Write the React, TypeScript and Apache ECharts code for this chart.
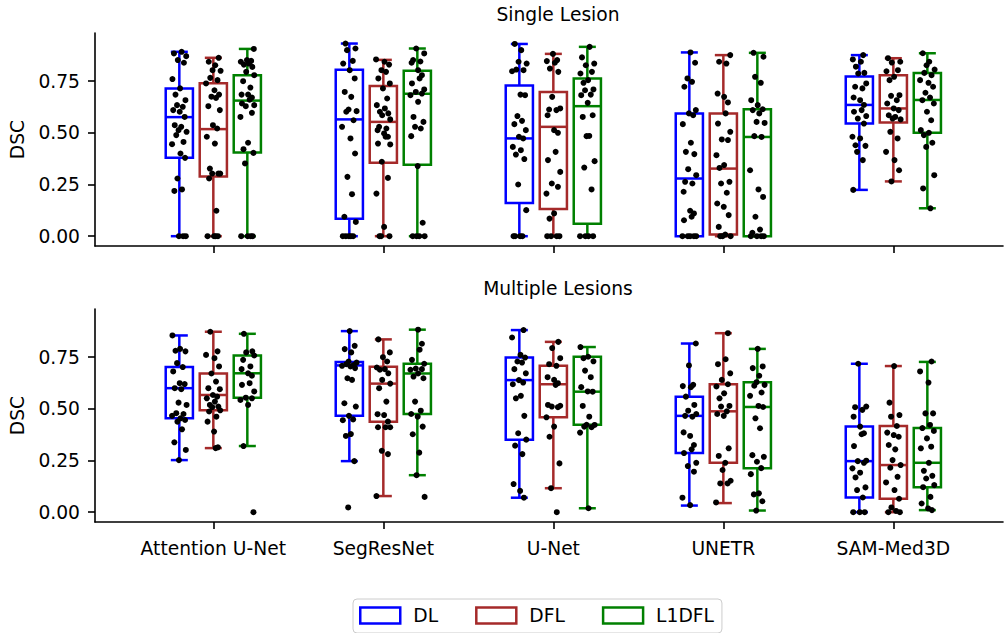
import React, { useEffect, useRef } from "react";
import * as echarts from "echarts";

const models = ["Attention U-Net", "SegResNet", "U-Net", "UNETR", "SAM-Med3D"];
const losses = ["DL", "DFL", "L1DFL"];
const lossColors = ["#0000ff", "#a52a2a", "#008000"];
const yTicks = [0, 0.25, 0.5, 0.75];
const panelTitles = ["Single Lesion", "Multiple Lesions"];

// box statistics per model: [lower whisker, q1, median, q3, upper whisker]
const singleDLBox = [
  [0, 0.379, 0.576, 0.715, 0.892],
  [0, 0.084, 0.565, 0.805, 0.932],
  [0, 0.16, 0.473, 0.729, 0.93],
  [0, 0, 0.279, 0.594, 0.889],
  [0.224, 0.545, 0.635, 0.773, 0.876],
];
const singleDFLBox = [
  [0, 0.289, 0.518, 0.74, 0.863],
  [0, 0.355, 0.553, 0.726, 0.853],
  [0, 0.132, 0.529, 0.697, 0.882],
  [0, 0.008, 0.327, 0.594, 0.876],
  [0.265, 0.55, 0.618, 0.779, 0.861],
];
const singleL1DFLBox = [
  [0, 0.405, 0.656, 0.779, 0.906],
  [0, 0.345, 0.689, 0.8, 0.908],
  [0, 0.06, 0.629, 0.763, 0.916],
  [0, 0, 0.48, 0.614, 0.887],
  [0.135, 0.5, 0.659, 0.789, 0.885],
];
const multiDLBox = [
  [0.252, 0.454, 0.6, 0.702, 0.855],
  [0.247, 0.466, 0.71, 0.726, 0.876],
  [0.07, 0.351, 0.639, 0.748, 0.881],
  [0.032, 0.286, 0.466, 0.559, 0.816],
  [0, 0.071, 0.247, 0.414, 0.718],
];
const multiDFLBox = [
  [0.31, 0.493, 0.567, 0.671, 0.873],
  [0.078, 0.438, 0.622, 0.703, 0.836],
  [0.116, 0.459, 0.619, 0.708, 0.824],
  [0.044, 0.239, 0.488, 0.619, 0.866],
  [0, 0.065, 0.228, 0.417, 0.707],
];
const multiL1DFLBox = [
  [0.32, 0.554, 0.672, 0.758, 0.863],
  [0.179, 0.475, 0.671, 0.718, 0.883],
  [0.019, 0.423, 0.583, 0.752, 0.799],
  [0.008, 0.213, 0.509, 0.629, 0.79],
  [0.01, 0.121, 0.239, 0.407, 0.727],
];

// individual DSC values per model (strip points)
const singleDLPoints = [
  [0.892, 0.884, 0.871, 0.852, 0.839, 0.76, 0.715, 0.685, 0.658, 0.634, 0.626, 0.61, 0.602, 0.577, 0.537, 0.529, 0.513, 0.505, 0.489, 0.456, 0.445, 0.4, 0.379, 0.279, 0.226, 0.219, 0, 0, 0],
  [0.932, 0.908, 0.9, 0.848, 0.835, 0.803, 0.763, 0.698, 0.674, 0.613, 0.605, 0.602, 0.561, 0.529, 0.473, 0.4, 0.287, 0.203, 0.094, 0.069, 0, 0, 0, 0, 0],
  [0.93, 0.9, 0.844, 0.835, 0.806, 0.803, 0.798, 0.685, 0.682, 0.581, 0.558, 0.542, 0.513, 0.481, 0.473, 0.432, 0.416, 0.395, 0.373, 0.25, 0.126, 0, 0, 0, 0],
  [0.889, 0.839, 0.763, 0.747, 0.723, 0.61, 0.594, 0.585, 0.542, 0.452, 0.408, 0.397, 0.324, 0.295, 0.263, 0.255, 0.215, 0.123, 0.11, 0.094, 0.077, 0, 0, 0, 0, 0],
  [0.876, 0.855, 0.844, 0.82, 0.79, 0.787, 0.739, 0.723, 0.715, 0.671, 0.658, 0.635, 0.61, 0.602, 0.581, 0.569, 0.545, 0.481, 0.473, 0.44, 0.437, 0.408, 0.368, 0.224],
];
const singleDFLPoints = [
  [0.863, 0.844, 0.827, 0.803, 0.8, 0.766, 0.755, 0.739, 0.706, 0.685, 0.675, 0.669, 0.629, 0.61, 0.537, 0.521, 0.481, 0.448, 0.327, 0.303, 0.303, 0.303, 0.279, 0.123, 0, 0, 0, 0],
  [0.855, 0.844, 0.83, 0.803, 0.795, 0.763, 0.739, 0.715, 0.666, 0.634, 0.618, 0.602, 0.594, 0.585, 0.565, 0.529, 0.521, 0.513, 0.497, 0.481, 0.481, 0.448, 0.444, 0.36, 0.282, 0.206, 0.045, 0, 0, 0],
  [0.882, 0.852, 0.847, 0.839, 0.811, 0.795, 0.674, 0.618, 0.613, 0.61, 0.585, 0.513, 0.5, 0.408, 0.368, 0.311, 0.255, 0.239, 0.206, 0.11, 0.085, 0, 0, 0, 0],
  [0.876, 0.844, 0.835, 0.69, 0.674, 0.647, 0.594, 0.545, 0.505, 0.468, 0.465, 0.392, 0.344, 0.33, 0.263, 0.255, 0.21, 0.158, 0.142, 0.102, 0.045, 0.008, 0, 0, 0],
  [0.861, 0.844, 0.84, 0.803, 0.798, 0.771, 0.755, 0.682, 0.679, 0.658, 0.642, 0.618, 0.61, 0.585, 0.577, 0.569, 0.565, 0.505, 0.473, 0.408, 0.368, 0.319, 0.265],
];
const singleL1DFLPoints = [
  [0.906, 0.852, 0.848, 0.844, 0.835, 0.83, 0.819, 0.795, 0.779, 0.75, 0.719, 0.685, 0.685, 0.671, 0.66, 0.642, 0.634, 0.629, 0.597, 0.577, 0.452, 0.421, 0.403, 0.352, 0, 0, 0, 0],
  [0.908, 0.884, 0.852, 0.845, 0.839, 0.803, 0.779, 0.763, 0.739, 0.71, 0.698, 0.69, 0.682, 0.65, 0.577, 0.553, 0.529, 0.521, 0.484, 0.339, 0.065, 0, 0, 0, 0],
  [0.916, 0.865, 0.835, 0.827, 0.795, 0.787, 0.755, 0.742, 0.71, 0.706, 0.685, 0.682, 0.645, 0.585, 0.577, 0.485, 0.484, 0.363, 0.332, 0.226, 0, 0, 0, 0],
  [0.887, 0.868, 0.771, 0.742, 0.658, 0.634, 0.614, 0.61, 0.594, 0.553, 0.548, 0.484, 0.48, 0.319, 0.226, 0.19, 0.094, 0.032, 0.016, 0, 0, 0, 0],
  [0.885, 0.844, 0.827, 0.806, 0.79, 0.779, 0.755, 0.742, 0.723, 0.694, 0.671, 0.658, 0.642, 0.602, 0.561, 0.513, 0.5, 0.489, 0.452, 0.432, 0.295, 0.231, 0.135],
];
const multiDLPoints = [
  [0.855, 0.79, 0.781, 0.778, 0.721, 0.702, 0.681, 0.624, 0.62, 0.6, 0.595, 0.53, 0.519, 0.479, 0.475, 0.466, 0.454, 0.446, 0.438, 0.401, 0.338, 0.301, 0.252],
  [0.876, 0.805, 0.789, 0.773, 0.729, 0.724, 0.716, 0.712, 0.708, 0.705, 0.697, 0.648, 0.64, 0.527, 0.511, 0.466, 0.449, 0.445, 0.378, 0.369, 0.247, 0.023],
  [0.881, 0.845, 0.761, 0.748, 0.729, 0.724, 0.692, 0.672, 0.639, 0.627, 0.619, 0.563, 0.551, 0.466, 0.382, 0.351, 0.322, 0.281, 0.136, 0.103, 0.07],
  [0.816, 0.71, 0.616, 0.61, 0.605, 0.559, 0.519, 0.491, 0.475, 0.466, 0.462, 0.386, 0.369, 0.325, 0.304, 0.286, 0.239, 0.223, 0.196, 0.07, 0.034],
  [0.718, 0.511, 0.508, 0.495, 0.462, 0.414, 0.382, 0.377, 0.32, 0.249, 0.247, 0.239, 0.212, 0.191, 0.168, 0.12, 0.107, 0.071, 0, 0, 0],
];
const multiDFLPoints = [
  [0.873, 0.778, 0.761, 0.745, 0.705, 0.671, 0.632, 0.6, 0.595, 0.567, 0.559, 0.551, 0.535, 0.519, 0.511, 0.508, 0.493, 0.487, 0.462, 0.438, 0.39, 0.314, 0.31],
  [0.836, 0.773, 0.75, 0.729, 0.7, 0.692, 0.689, 0.672, 0.64, 0.622, 0.6, 0.535, 0.474, 0.47, 0.438, 0.411, 0.411, 0.411, 0.297, 0.281, 0.078],
  [0.824, 0.794, 0.745, 0.716, 0.708, 0.653, 0.64, 0.624, 0.616, 0.519, 0.515, 0.511, 0.508, 0.459, 0.414, 0.365, 0.236, 0.116, 0],
  [0.866, 0.74, 0.716, 0.672, 0.64, 0.619, 0.608, 0.575, 0.551, 0.514, 0.511, 0.488, 0.475, 0.466, 0.309, 0.272, 0.239, 0.204, 0.152, 0.139, 0.139, 0.047],
  [0.707, 0.53, 0.47, 0.462, 0.417, 0.385, 0.373, 0.365, 0.325, 0.304, 0.252, 0.228, 0.215, 0.171, 0.144, 0.107, 0.065, 0.023, 0.006, 0, 0],
];
const multiL1DFLPoints = [
  [0.863, 0.778, 0.773, 0.758, 0.737, 0.705, 0.692, 0.672, 0.66, 0.624, 0.616, 0.584, 0.554, 0.551, 0.543, 0.519, 0.32, 0],
  [0.883, 0.815, 0.786, 0.737, 0.718, 0.695, 0.692, 0.689, 0.671, 0.656, 0.648, 0.535, 0.491, 0.475, 0.462, 0.414, 0.377, 0.288, 0.179, 0.074],
  [0.799, 0.752, 0.745, 0.73, 0.685, 0.653, 0.605, 0.584, 0.583, 0.514, 0.462, 0.423, 0.422, 0.414, 0.411, 0.385, 0.019],
  [0.79, 0.705, 0.697, 0.66, 0.629, 0.616, 0.612, 0.579, 0.563, 0.514, 0.509, 0.454, 0.406, 0.276, 0.268, 0.244, 0.213, 0.184, 0.091, 0.086, 0.053, 0.008],
  [0.729, 0.681, 0.627, 0.478, 0.478, 0.422, 0.407, 0.393, 0.357, 0.317, 0.309, 0.239, 0.2, 0.176, 0.163, 0.131, 0.121, 0.074, 0.042, 0.018, 0.01],
];

// fixed strip jitter pattern (fraction of jitter half-width)
const jitterPattern = [0.3, -0.7, 0.9, -0.2, 0.6, -0.9, 0.1, -0.5, 0.8, -0.3, 0.45, -0.8, 0.05, 0.7, -0.6, 0.25, -0.1, 0.95, -0.4, 0.55, -0.95, 0.15, 0.75, -0.25, 0.35, -0.65, 0.85, -0.05, 0.5, -0.85, 0.2, -0.45, 0.65, -0.15, 0.9, -0.55, 0.4, -0.75, 0.1, 0.6];

const FONT = "DejaVu Sans";
const FS = 18.7;
const HUE_OFFSET = [-0.2, 0, 0.2];
const BOX_W = 0.16;
const CAP_W = 0.1;
const JITTER = 0.045;
const LW = 2.5;

const boxesByPanel = [
  [singleDLBox, singleDFLBox, singleL1DFLBox],
  [multiDLBox, multiDFLBox, multiL1DFLBox],
];
const pointsByPanel = [
  [singleDLPoints, singleDFLPoints, singleL1DFLPoints],
  [multiDLPoints, multiDFLPoints, multiL1DFLPoints],
];

function buildOption() {
  const grids = [
    { left: 95, width: 908, top: 33, height: 213 },
    { left: 95, width: 908, top: 309, height: 213 },
  ];
  const xAxes = grids.map((_, p) => ({
    type: "value",
    gridIndex: p,
    min: -0.696,
    max: 4.645,
    splitLine: { show: false },
    axisLine: { show: true, onZero: false, lineStyle: { color: "#000", width: 1.6 } },
    axisTick: {
      show: true,
      customValues: [0, 1, 2, 3, 4],
      length: 7,
      lineStyle: { color: "#000", width: 1.6 },
    },
    axisLabel: {
      show: p === 1,
      customValues: [0, 1, 2, 3, 4],
      formatter: (v: number) => models[Math.round(v)] ?? "",
      fontFamily: FONT,
      fontSize: FS,
      color: "#000",
      margin: 17,
    },
  }));
  const yAxes = grids.map((_, p) => ({
    type: "value",
    gridIndex: p,
    min: -0.0475,
    max: 0.983,
    name: "DSC",
    nameLocation: "middle",
    nameGap: 66,
    nameRotate: 90,
    nameTextStyle: { fontFamily: FONT, fontSize: FS, color: "#000" },
    splitLine: { show: false },
    axisLine: { show: true, onZero: false, lineStyle: { color: "#000", width: 1.6 } },
    axisTick: { show: true, customValues: yTicks, length: 7, lineStyle: { color: "#000", width: 1.6 } },
    axisLabel: {
      customValues: yTicks,
      formatter: (v: number) => v.toFixed(2),
      fontFamily: FONT,
      fontSize: FS,
      color: "#000",
      margin: 15,
    },
  }));

  const series: any[] = [];
  for (let p = 0; p < 2; p++) {
    for (let h = 0; h < 3; h++) {
      const color = lossColors[h];
      series.push({
        type: "custom",
        name: losses[h],
        xAxisIndex: p,
        yAxisIndex: p,
        silent: true,
        z: 2,
        encode: { x: 0, y: [1, 2, 3, 4, 5] },
        data: boxesByPanel[p][h].map((b, i) => [i + HUE_OFFSET[h], ...b]),
        renderItem: (params: any, api: any) => {
          const x = api.value(0);
          const lo = api.coord([x, api.value(1)]);
          const q1 = api.coord([x, api.value(2)]);
          const md = api.coord([x, api.value(3)]);
          const q3 = api.coord([x, api.value(4)]);
          const hi = api.coord([x, api.value(5)]);
          const bw = api.size([BOX_W, 0])[0];
          const cw = api.size([CAP_W, 0])[0];
          const cx = lo[0];
          const st = { stroke: color, lineWidth: LW, fill: "none" };
          return {
            type: "group",
            children: [
              { type: "line", shape: { x1: cx, y1: q1[1], x2: cx, y2: lo[1] }, style: st },
              { type: "line", shape: { x1: cx, y1: q3[1], x2: cx, y2: hi[1] }, style: st },
              { type: "line", shape: { x1: cx - cw / 2, y1: lo[1], x2: cx + cw / 2, y2: lo[1] }, style: st },
              { type: "line", shape: { x1: cx - cw / 2, y1: hi[1], x2: cx + cw / 2, y2: hi[1] }, style: st },
              { type: "rect", shape: { x: cx - bw / 2, y: q3[1], width: bw, height: q1[1] - q3[1] }, style: st },
              { type: "line", shape: { x1: cx - bw / 2, y1: md[1], x2: cx + bw / 2, y2: md[1] }, style: st },
            ],
          };
        },
      });
      const pts: number[][] = [];
      pointsByPanel[p][h].forEach((vals, i) => {
        vals.forEach((v, k) => {
          const j = jitterPattern[(k + i * 7 + h * 13 + p * 5) % jitterPattern.length];
          pts.push([i + HUE_OFFSET[h] + j * JITTER, v]);
        });
      });
      series.push({
        type: "scatter",
        name: "points-" + p + "-" + h,
        xAxisIndex: p,
        yAxisIndex: p,
        silent: true,
        z: 5,
        symbol: "circle",
        symbolSize: 6,
        itemStyle: { color: "#000", opacity: 1 },
        data: pts,
      });
    }
  }

  return {
    animation: false,
    backgroundColor: "#fff",
    textStyle: { fontFamily: FONT },
    title: [
      { text: panelTitles[0], left: 553, top: -1, textAlign: "center", textStyle: { fontFamily: FONT, fontSize: FS, fontWeight: "normal", color: "#000", lineHeight: 20 } },
      { text: panelTitles[1], left: 553, top: 273, textAlign: "center", textStyle: { fontFamily: FONT, fontSize: FS, fontWeight: "normal", color: "#000", lineHeight: 20 } },
    ],
    legend: {
      data: losses.map((n, i) => ({
        name: n,
        icon: "rect",
        itemStyle: { color: "#fff", borderColor: lossColors[i], borderWidth: LW },
      })),
      left: 353,
      top: 599,
      orient: "horizontal",
      itemWidth: 40,
      itemHeight: 16,
      itemGap: 37,
      padding: [7, 8, 8, 6],
      borderColor: "#cccccc",
      borderWidth: 1,
      borderRadius: 4,
      selectedMode: false,
      textStyle: { fontFamily: FONT, fontSize: FS, color: "#000", padding: [0, 0, 0, 8] },
    },
    grid: grids,
    xAxis: xAxes,
    yAxis: yAxes,
    series,
  };
}

export default function App() {
  const ref = useRef<HTMLDivElement>(null);
  useEffect(() => {
    if (!ref.current) return;
    const chart = echarts.init(ref.current, null, { renderer: "svg" });
    chart.setOption(buildOption() as any);
    return () => chart.dispose();
  }, []);
  return (
    <div
      ref={ref}
      style={{ position: "fixed", left: 0, top: 0, width: 1005, height: 633, background: "#fff" }}
    />
  );
}
